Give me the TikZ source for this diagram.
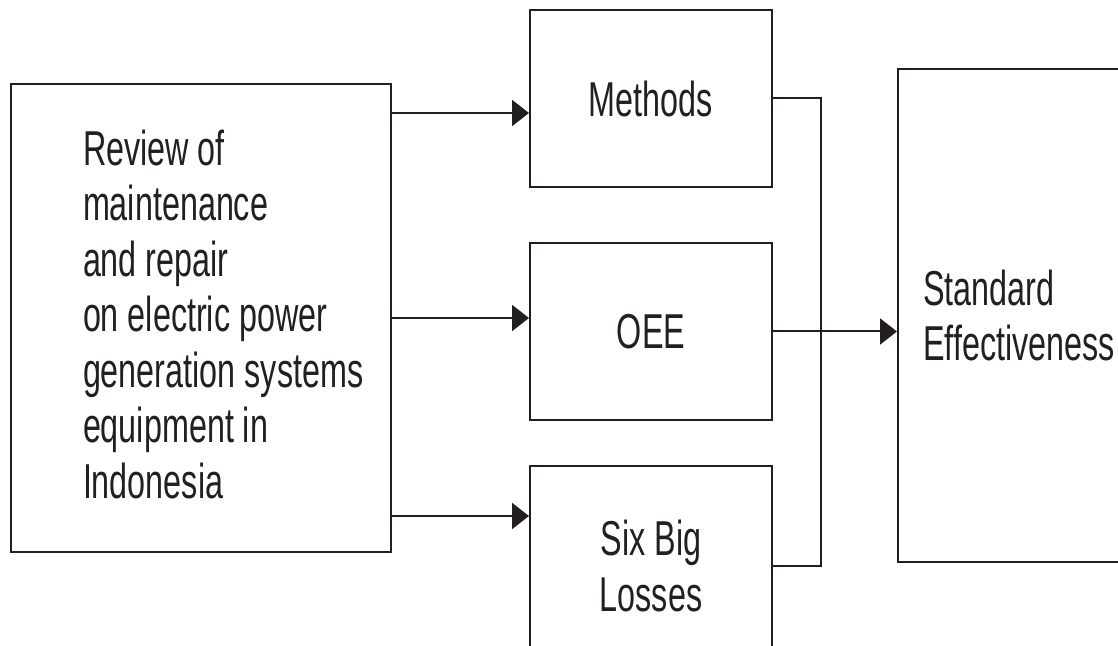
\documentclass[tikz,border=0pt]{standalone}
\usepackage{fontspec}
\setmainfont[FakeStretch=0.66]{Liberation Sans}
\usetikzlibrary{arrows.meta,positioning}
\definecolor{ink}{HTML}{231F20}
\tikzset{
  box/.style={draw=ink, line width=1pt, minimum width=121pt, minimum height=88.5pt,
    inner sep=0pt, text=ink, align=center, font=\fontsize{24.5}{27.75}\selectfont},
  arr/.style={draw=ink, line width=1pt, -{Triangle[length=8.5pt,width=13pt]}},
  link/.style={draw=ink, line width=1pt}
}

\begin{document}
\begin{tikzpicture}[x=0.5pt,y=-0.5pt]
  \useasboundingbox (0,0) rectangle (1118,646);
  % boxes
  \node[box, minimum width=190pt, minimum height=234pt] (review) at (201,318) {};
  \node[box, draw=none, anchor=west, align=left] (reviewtext) at (82,314)
    {Review of\\maintenance\\and repair\\on electric power\\generation systems\\equipment in\\Indonesia};
  \node[box] (oee) at (651,331.5) {OEE};
  \node[box, above=27pt of oee] (methods) {Methods};
  \node[box, below=22pt of oee, minimum height=100pt] (six) {Six Big\\Losses};
  \node[box, minimum height=246.5pt, align=left] (standard) at (1019,315.5) {Standard\\Effectiveness};
  % connectors
  \coordinate (r1) at (review.east |- 0,113);
  \coordinate (r3) at (review.east |- 0,516);
  \draw[arr] (r1) -- (r1 -| methods.west);
  \draw[arr] (review.east) -- (review.east -| oee.west);
  \draw[arr] (r3) -- (r3 -| six.west);
  \draw[link] (methods.east) -- ++(48,0) |- (six.east);
  \draw[arr] (oee.east) -- (oee.east -| standard.west);
\end{tikzpicture}
\end{document}
